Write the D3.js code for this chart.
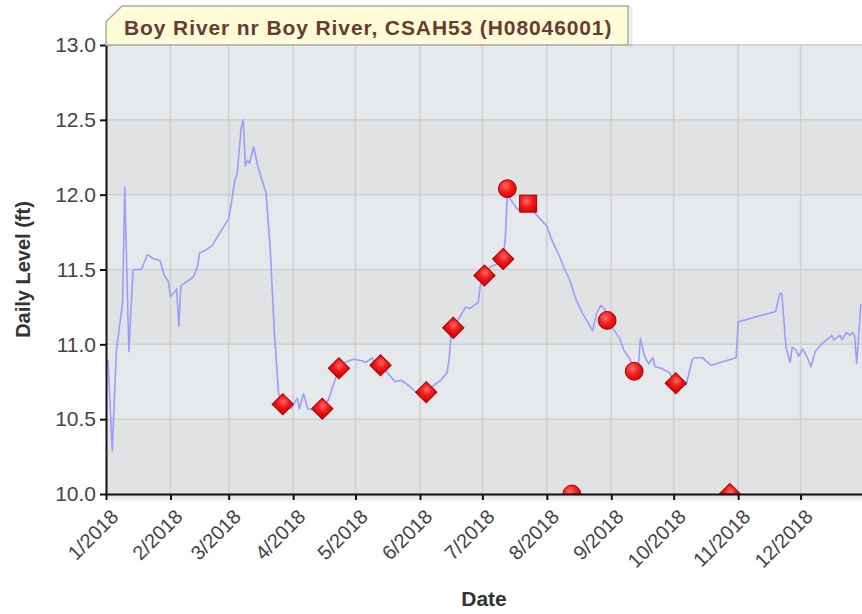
<!DOCTYPE html>
<html>
<head>
<meta charset="utf-8">
<script src="https://cdn.jsdelivr.net/npm/d3@7"></script>
<style>
  body { margin: 0; background: #fff; }
  svg { display: block; font-family: "Liberation Sans", Arial, sans-serif; }
</style>
</head>
<body>
<div id="chart"></div>
<script>
// ---------------- data ----------------
const titleText = "Boy River nr Boy River, CSAH53 (H08046001)";

const levelDates = [
  "2018-01-01","2018-01-02","2018-01-04","2018-01-06","2018-01-09","2018-01-10","2018-01-12","2018-01-14",
  "2018-01-18","2018-01-21","2018-01-24","2018-01-27","2018-01-29","2018-01-31","2018-02-01","2018-02-03",
  "2018-02-04","2018-02-05","2018-02-06","2018-02-10","2018-02-12","2018-02-14","2018-02-15","2018-02-18",
  "2018-02-21","2018-02-25","2018-03-01","2018-03-02","2018-03-04","2018-03-05","2018-03-07","2018-03-08",
  "2018-03-09","2018-03-10","2018-03-11","2018-03-13","2018-03-15","2018-03-17","2018-03-19","2018-03-21",
  "2018-03-23","2018-03-25","2018-03-27","2018-03-31","2018-04-03","2018-04-04","2018-04-06","2018-04-08",
  "2018-04-12","2018-04-15","2018-04-18","2018-04-22","2018-04-23","2018-04-26","2018-04-30","2018-05-04",
  "2018-05-06","2018-05-09","2018-05-10","2018-05-13","2018-05-17","2018-05-20","2018-05-23","2018-05-27",
  "2018-05-30","2018-06-04","2018-06-07","2018-06-11","2018-06-14","2018-06-15","2018-06-16","2018-06-17",
  "2018-06-20","2018-06-23","2018-06-25","2018-06-29","2018-06-30","2018-07-01","2018-07-02","2018-07-05",
  "2018-07-09","2018-07-11","2018-07-12","2018-07-13","2018-07-14","2018-07-18","2018-07-23","2018-07-26",
  "2018-08-01","2018-08-03","2018-08-05","2018-08-07","2018-08-09","2018-08-12","2018-08-15","2018-08-18",
  "2018-08-21","2018-08-23","2018-08-25","2018-08-27","2018-08-29","2018-08-30","2018-09-01","2018-09-05",
  "2018-09-07","2018-09-10","2018-09-12","2018-09-14","2018-09-15","2018-09-17","2018-09-19","2018-09-21",
  "2018-09-22","2018-09-25","2018-09-29","2018-10-02","2018-10-07","2018-10-10","2018-10-11","2018-10-15",
  "2018-10-19","2018-10-31","2018-11-01","2018-11-19","2018-11-21","2018-11-22","2018-11-24","2018-11-26",
  "2018-11-27","2018-11-29","2018-11-30","2018-12-02","2018-12-04","2018-12-06","2018-12-08","2018-12-11",
  "2018-12-16","2018-12-17","2018-12-20","2018-12-21","2018-12-23","2018-12-25","2018-12-26","2018-12-27",
  "2018-12-28","2018-12-30"
];
const levelValues = [
  10.88,10.89,10.29,10.96,11.28,12.05,10.95,11.50,
  11.50,11.60,11.57,11.56,11.46,11.42,11.32,11.35,
  11.37,11.12,11.39,11.43,11.45,11.52,11.61,11.63,
  11.66,11.75,11.84,11.92,12.10,12.13,12.45,12.50,
  12.19,12.23,12.21,12.32,12.19,12.10,12.01,11.63,
  11.07,10.67,10.60,10.57,10.64,10.57,10.67,10.57,
  10.56,10.57,10.63,10.80,10.84,10.88,10.90,10.89,
  10.88,10.91,10.87,10.86,10.80,10.75,10.76,10.72,
  10.68,10.68,10.72,10.76,10.81,10.90,11.07,11.11,
  11.18,11.25,11.24,11.28,11.39,11.44,11.46,11.52,
  11.54,11.57,11.70,12.00,11.98,11.90,11.94,11.88,
  11.79,11.71,11.65,11.59,11.52,11.43,11.30,11.21,
  11.14,11.09,11.21,11.26,11.23,11.16,11.12,11.04,
  10.96,10.90,10.82,10.85,11.04,10.92,10.87,10.91,
  10.85,10.84,10.81,10.74,10.73,10.90,10.91,10.91,
  10.86,10.91,11.15,11.22,11.34,11.34,10.98,10.88,
  10.98,10.96,10.92,10.97,10.92,10.85,10.95,11.00,
  11.06,11.03,11.06,11.03,11.08,11.06,11.08,11.06,
  10.87,11.27
];

const diamondDates = ["2018-03-27","2018-04-15","2018-04-23","2018-05-13","2018-06-04","2018-06-17",
                      "2018-07-02","2018-07-11","2018-10-02","2018-10-28"];
const diamondValues = [10.60,10.57,10.84,10.86,10.68,11.11,11.46,11.57,10.74,10.00];

const circleDates = ["2018-07-13","2018-08-13","2018-08-30","2018-09-12"];
const circleValues = [12.04,10.00,11.16,10.82];

const squareDates = ["2018-07-23"];
const squareValues = [11.94];

const monthTicks = ["2018-01-01","2018-02-01","2018-03-01","2018-04-01","2018-05-01","2018-06-01",
                    "2018-07-01","2018-08-01","2018-09-01","2018-10-01","2018-11-01","2018-12-01"];
const levelTicks = [10.0, 10.5, 11.0, 11.5, 12.0, 12.5, 13.0];

// ---------------- layout ----------------
var W = 862, H = 614;
var margin = {top: 45, left: 106};
var plotW = 759, plotH = 449;

var parse = d3.timeParse("%Y-%m-%d");

var svg = d3.select("#chart").append("svg")
    .attr("width", W)
    .attr("height", H);

var defs = svg.append("defs");

defs.append("clipPath").attr("id", "plotClip")
  .append("rect").attr("x", 0).attr("y", 0).attr("width", plotW).attr("height", plotH);

var grad = defs.append("radialGradient").attr("id", "redBall")
    .attr("cx", "40%").attr("cy", "35%").attr("r", "65%");
grad.append("stop").attr("offset", "0%").attr("stop-color", "#ff6a6a");
grad.append("stop").attr("offset", "55%").attr("stop-color", "#f51c1c");
grad.append("stop").attr("offset", "100%").attr("stop-color", "#d80808");

var shadowGrad = defs.append("linearGradient").attr("id", "axisShadow")
    .attr("x1", 0).attr("y1", 0).attr("x2", 0).attr("y2", 1);
shadowGrad.append("stop").attr("offset", "0%").attr("stop-color", "#000").attr("stop-opacity", 0.13);
shadowGrad.append("stop").attr("offset", "100%").attr("stop-color", "#000").attr("stop-opacity", 0);

var xScale = d3.scaleTime()
    .domain([parse("2018-01-01"), parse("2019-01-01")])
    .range([0, plotW]);

var yScale = d3.scaleLinear()
    .domain([10, 13])
    .range([plotH, 0]);

var g = svg.append("g").attr("transform", "translate(" + margin.left + "," + margin.top + ")");

// alternating horizontal bands
var bands = d3.pairs(levelTicks);
g.selectAll(".band").data(bands).enter().append("rect")
    .attr("class", "band")
    .attr("x", 0)
    .attr("width", plotW)
    .attr("y", d => yScale(d[1]))
    .attr("height", d => yScale(d[0]) - yScale(d[1]))
    .attr("fill", (d, i) => i % 2 ? "#e6e9ec" : "#e1e2e4");

// grid
g.selectAll(".vgrid").data(monthTicks.slice(1)).enter().append("line")
    .attr("x1", d => xScale(parse(d))).attr("x2", d => xScale(parse(d)))
    .attr("y1", 0).attr("y2", plotH)
    .attr("stroke", "#cfcfcf").attr("stroke-width", 1.5);

g.selectAll(".hgrid").data(levelTicks.slice(1, -1)).enter().append("line")
    .attr("x1", 0).attr("x2", plotW)
    .attr("y1", d => yScale(d)).attr("y2", d => yScale(d))
    .attr("stroke", "#cfcfcf").attr("stroke-width", 1.5);

// top edge of the plot
g.append("line").attr("x1", 0).attr("x2", plotW).attr("y1", 0).attr("y2", 0)
    .attr("stroke", "#c8c8c8").attr("stroke-width", 1.5);

// level line
var levelData = levelDates.map((d, i) => ({date: parse(d), value: levelValues[i]}));
var line = d3.line()
    .x(d => xScale(d.date))
    .y(d => yScale(d.value));

var plot = g.append("g").attr("clip-path", "url(#plotClip)");

plot.append("path")
    .datum(levelData)
    .attr("fill", "none")
    .attr("stroke", "#9c9cff")
    .attr("stroke-width", 1.6)
    .attr("stroke-linejoin", "round")
    .attr("d", line);

// measurement markers
function drawMarkers(dates, values, type, size, rotate) {
  var sym = d3.symbol().type(type).size(size);
  plot.selectAll(null).data(dates.map((d, i) => ({date: parse(d), value: values[i]}))).enter()
    .append("path")
      .attr("d", sym)
      .attr("transform", d => "translate(" + xScale(d.date) + "," + yScale(d.value) + ")" + (rotate ? " rotate(45)" : ""))
      .attr("fill", "url(#redBall)")
      .attr("stroke", "#a80000")
      .attr("stroke-width", 1);
}
drawMarkers(diamondDates, diamondValues, d3.symbolSquare, 225, true);
drawMarkers(circleDates, circleValues, d3.symbolCircle, 250, false);
drawMarkers(squareDates, squareValues, d3.symbolSquare, 290, false);

// axis shadow
g.append("rect").attr("x", 0).attr("y", plotH + 1).attr("width", plotW).attr("height", 8)
    .attr("fill", "url(#axisShadow)");

// axes
var xAxis = d3.axisBottom(xScale)
    .tickValues(monthTicks.map(parse))
    .tickFormat(d3.timeFormat("%-m/%Y"))
    .tickSize(6)
    .tickSizeOuter(0);

var xg = g.append("g")
    .attr("transform", "translate(0," + plotH + ")")
    .call(xAxis);
xg.select(".domain").attr("stroke", "#111").attr("stroke-width", 2);
xg.selectAll(".tick line").attr("stroke", "#111").attr("stroke-width", 2);
xg.selectAll(".tick text")
    .attr("x", 0).attr("y", 0).attr("dy", 0)
    .attr("transform", "translate(13,24) rotate(-45)")
    .style("text-anchor", "end")
    .attr("font-size", "20px")
    .attr("fill", "#444");

var yAxis = d3.axisLeft(yScale)
    .tickValues(levelTicks)
    .tickFormat(d3.format(".1f"))
    .tickSize(6)
    .tickSizeOuter(0)
    .tickPadding(4);

var yg = g.append("g").call(yAxis);
yg.select(".domain").attr("stroke", "#111").attr("stroke-width", 2);
yg.selectAll(".tick line").attr("stroke", "#111").attr("stroke-width", 2);
yg.selectAll(".tick text")
    .attr("font-size", "21px")
    .attr("fill", "#444");

// axis titles
svg.append("text")
    .attr("transform", "translate(30," + (margin.top + plotH / 2) + ") rotate(-90)")
    .attr("text-anchor", "middle")
    .attr("font-size", "20px")
    .attr("font-weight", "bold")
    .attr("fill", "#333")
    .text("Daily Level (ft)");

svg.append("text")
    .attr("x", 484)
    .attr("y", 606)
    .attr("text-anchor", "middle")
    .attr("font-size", "21px")
    .attr("font-weight", "bold")
    .attr("fill", "#333")
    .text("Date");

// title tab
var tabPath = "M106,45 L106,22 L122,6 L628,6 L628,45";
svg.append("path")
    .attr("d", tabPath)
    .attr("transform", "translate(3,2)")
    .attr("fill", "none")
    .attr("stroke", "#000")
    .attr("stroke-opacity", 0.08)
    .attr("stroke-width", 3);
svg.append("path")
    .attr("d", tabPath + " Z")
    .attr("fill", "#fefcd6")
    .attr("stroke", "#a9a9a9")
    .attr("stroke-width", 1.5);
svg.append("text")
    .attr("x", 124)
    .attr("y", 35)
    .attr("font-size", "21px")
    .attr("font-weight", "bold")
    .attr("letter-spacing", "0.9px")
    .attr("fill", "#6b3a30")
    .text(titleText);
</script>
</body>
</html>
